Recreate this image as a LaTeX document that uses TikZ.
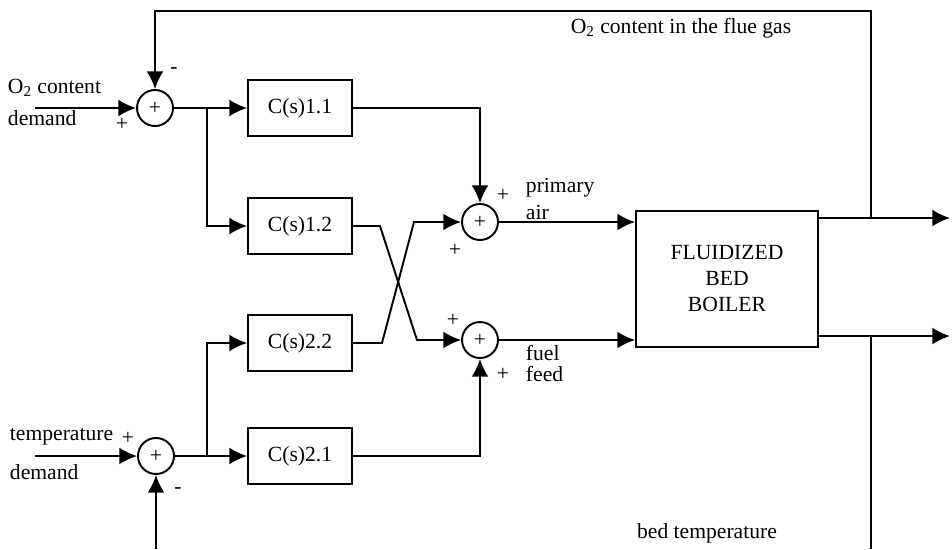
\documentclass[tikz,border=0pt]{standalone}
\usepackage{fontspec}
\setmainfont{Liberation Serif}
\usetikzlibrary{arrows.meta}

\begin{document}
\begin{tikzpicture}[x=0.02cm,y=-0.02cm,line width=1.1pt,
  font=\fontsize{12.3}{14.8}\selectfont,
  sig/.style={-{Latex[length=10pt,width=9.5pt]}},
  ctrl/.style={draw,rectangle,minimum width=2.08cm,minimum height=1.12cm,inner sep=0pt},
  sumj/.style={draw,circle,minimum size=0.72cm,inner sep=0pt},
  lbl/.style={inner sep=0pt}]
\useasboundingbox (0,0) rectangle (952,549);

%summing junctions
\node[sumj] (s1) at (155,108) {+};
\node[sumj] (s2) at (156,456) {+};
\node[sumj] (s3) at (480,222) {+};
\node[sumj] (s4) at (480,340) {+};

%controllers
\node[ctrl] (c11) at (300,108) {C(s)1.1};
\node[ctrl] (c12) at (300,226) {C(s)1.2};
\node[ctrl] (c22) at (300,343) {C(s)2.2};
\node[ctrl] (c21) at (300,456) {C(s)2.1};

%boiler
\node[draw,rectangle,minimum width=3.64cm,minimum height=2.72cm,align=center,
  inner sep=0pt] (boiler) at (727,279) {FLUIDIZED\\BED\\BOILER};

%points on the lines
\coordinate (in1) at (35,108);
\coordinate (in2) at (35,456);
\coordinate (b1) at (207,108);
\coordinate (b2) at (207,456);
\coordinate (k1) at (380,226);
\coordinate (k2) at (417,340);
\coordinate (k3) at (382,343);
\coordinate (k4) at (414,222);
\coordinate (y1) at (950,218);
\coordinate (y2) at (950,336);
\coordinate (t1) at (871,218);
\coordinate (t2) at (871,336);
\coordinate (tc) at (871,11);
\coordinate (bc) at (871,549);
\coordinate (fb2) at (156,549);

%oxygen loop
\draw[sig] (in1) -- (s1);
\draw[sig] (s1) -- (c11);
\draw[sig] (b1) |- (c12);
\draw[sig] (c11) -| (s3);
\draw[sig] (c12) -- (k1) -- (k2) -- (s4);

%temperature loop
\draw[sig] (in2) -- (s2);
\draw[sig] (s2) -- (c21);
\draw[sig] (b2) |- (c22);
\draw[sig] (c21) -| (s4);
\draw[sig] (c22) -- (k3) -- (k4) -- (s3);

%boiler in and out
\draw[sig] (s3) -- (s3 -| boiler.west);
\draw[sig] (s4) -- (s4 -| boiler.west);
\draw[sig] (boiler.east |- y1) -- (y1);
\draw[sig] (boiler.east |- y2) -- (y2);

%feedbacks
\draw[sig] (t1) -- (tc) -| (s1);
\draw (t2) -- (bc);
\draw[sig] (fb2) -- (s2);

%labels
\node[lbl,anchor=west] (l1) at (7,88) {O\textsubscript{2} content};
\node[lbl,anchor=west] (l2) at (7,118) {demand};
\node[lbl] (p1) at (122,124) {+};
\node[lbl] (m1) at (174,71) {-};
\node[lbl,anchor=west] (l3) at (9,437) {temperature};
\node[lbl] (p2) at (128,438) {+};
\node[lbl,anchor=west] (l4) at (9,472) {demand};
\node[lbl] (m2) at (178,491) {-};
\node[lbl] (p3) at (503,195) {+};
\node[lbl] (p4) at (455,250) {+};
\node[lbl,anchor=west] (l5) at (525,188) {primary};
\node[lbl,anchor=west] (l6) at (525,212) {air};
\node[lbl] (p5) at (453,320) {+};
\node[lbl] (p6) at (503,374) {+};
\node[lbl,anchor=west] (l7) at (525,353) {fuel};
\node[lbl,anchor=west] (l8) at (525,374) {feed};
\node[lbl] (l9) at (681,28) {O\textsubscript{2} content in the flue gas};
\node[lbl] (l10) at (707,533) {bed temperature};

\end{tikzpicture}
\end{document}
